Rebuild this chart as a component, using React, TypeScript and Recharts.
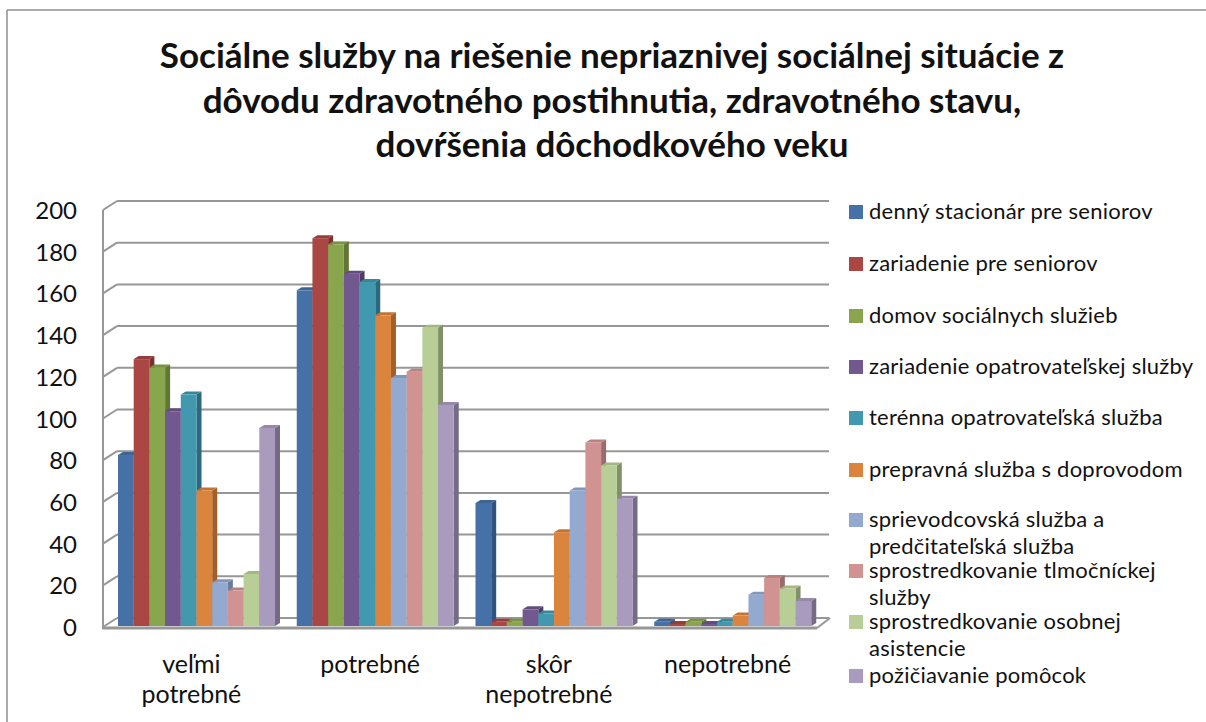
import React from 'react';
import { BarChart, Bar, XAxis, YAxis, CartesianGrid, Legend } from 'recharts';

const categories = ['veľmi potrebné', 'potrebné', 'skôr nepotrebné', 'nepotrebné'];

const denny = [82, 161, 59, 2];
const zariadenie = [128, 186, 2, 1];
const domov = [124, 183, 2, 2];
const opatrovatelska = [103, 169, 8, 1];
const terenna = [111, 165, 6, 2];
const prepravna = [65, 149, 45, 5];
const sprievodcovska = [21, 119, 65, 15];
const tlmocnicka = [17, 122, 88, 23];
const asistencia = [25, 143, 77, 18];
const pomocky = [95, 106, 61, 12];

const yTicks = [0, 20, 40, 60, 80, 100, 120, 140, 160, 180, 200];

const titleLines = [
  'Sociálne služby na riešenie nepriaznivej sociálnej situácie z',
  'dôvodu zdravotného postihnutia, zdravotného stavu,',
  'dovŕšenia dôchodkového veku',
];

// legend rows are not evenly spaced in the original
const legendRowY = [212, 264, 316, 367, 418, 470, 520, 571, 622, 676];

const series = [
  { key: 's1', name: 'denný stacionár pre seniorov', values: denny, color: '#4571a6', side: '#2f5480', top: '#3d6594' },
  { key: 's2', name: 'zariadenie pre seniorov', values: zariadenie, color: '#aa4643', side: '#7c2f2d', top: '#963c3a' },
  { key: 's3', name: 'domov sociálnych služieb', values: domov, color: '#89a54e', side: '#5f7635', top: '#799244' },
  { key: 's4', name: 'zariadenie opatrovateľskej služby', values: opatrovatelska, color: '#71588f', side: '#4e3c66', top: '#624c7e' },
  { key: 's5', name: 'terénna opatrovateľská služba', values: terenna, color: '#4198af', side: '#2a6a7c', top: '#38869b' },
  { key: 's6', name: 'prepravná služba s doprovodom', values: prepravna, color: '#db843d', side: '#a35f26', top: '#c37433' },
  { key: 's7', name: 'sprievodcovská služba a\npredčitateľská služba', values: sprievodcovska, color: '#93a9cf', side: '#6b7d9d', top: '#8296b9' },
  { key: 's8', name: 'sprostredkovanie tlmočníckej\nslužby', values: tlmocnicka, color: '#d19392', side: '#9b6b6a', top: '#b98180' },
  { key: 's9', name: 'sprostredkovanie osobnej\nasistencie', values: asistencia, color: '#b9cd96', side: '#7f9168', top: '#a4b684' },
  { key: 's10', name: 'požičiavanie pomôcok', values: pomocky, color: '#a99bbd', side: '#766b86', top: '#9688a9' },
];

const data = categories.map((name, i) => {
  const row: Record<string, string | number> = { name };
  series.forEach((s) => {
    row[s.key] = s.values[i];
  });
  return row;
});

const FONT = 'Lato, "Noto Sans", sans-serif';
const GRID = '#979797';
const DX = 5;
const DY = 3;

const bar3d = (side: string, top: string) => (props: any) => {
  const { x, y, width, height, fill } = props;
  const r = x + width;
  const b = y + height;
  return (
    <g>
      <polygon points={`${r},${y} ${r + DX},${y - DY} ${r + DX},${b - DY} ${r},${b}`} fill={side} />
      <polygon points={`${x},${y} ${x + DX},${y - DY} ${r + DX},${y - DY} ${r},${y}`} fill={top} />
      <rect x={x} y={y} width={width} height={height} fill={fill} />
    </g>
  );
};

const gridLine = (p: any) => (
  <g key={p.key}>
    <line x1={117} y1={p.y1 - 8} x2={829} y2={p.y1 - 8} stroke={GRID} strokeWidth={2} />
    <line x1={103} y1={p.y1 + 1} x2={117} y2={p.y1 - 8} stroke={GRID} strokeWidth={2} />
  </g>
);

const CategoryTick = (props: any) => {
  const { x, y, payload } = props;
  const words = String(payload.value).split(' ');
  return (
    <text x={x - 5} textAnchor="middle" fontFamily={FONT} fontSize={25} fill="#111">
      {words.map((w, i) => (
        <tspan key={w} x={x - 5} y={y + 39 + i * 30}>
          {w}
        </tspan>
      ))}
    </text>
  );
};

const ValueTick = (props: any) => (
  <text x={77} y={props.y + 10} textAnchor="end" fontFamily={FONT} fontSize={24} fill="#111">
    {props.payload.value}
  </text>
);

const LegendBox = (props: any) => (
  <div
    style={{
      position: 'relative',
      width: 1206,
      height: 722,
      fontFamily: FONT,
      fontSize: 22,
      letterSpacing: 0.24,
      color: '#111',
    }}
  >
    {props.payload.map((item: any, i: number) => (
      <div key={item.value}>
        <div
          style={{ position: 'absolute', left: 849, top: legendRowY[i] - 7, width: 14, height: 14, background: item.color }}
        />
        <div
          style={{
            position: 'absolute',
            left: 869,
            top: legendRowY[i] - 15,
            lineHeight: '27px',
            whiteSpace: 'pre-line',
          }}
        >
          {item.value}
        </div>
      </div>
    ))}
  </div>
);

const App = () => {
  return (
    <div
      style={{ position: 'fixed', left: 0, top: 0, width: 1206, height: 722, overflow: 'hidden', background: '#fff' }}
    >
      <BarChart
        width={1206}
        height={722}
        data={data}
        margin={{ top: 209, right: 384, bottom: 0, left: 0 }}
        barCategoryGap={11}
        barGap={0}
        barSize={15.7}
      >
        <line x1={7} y1={10} x2={7} y2={722} stroke="#8f8f8f" strokeWidth={1.5} />
        <line x1={7} y1={10} x2={1206} y2={10} stroke="#8f8f8f" strokeWidth={1.5} />
        <text textAnchor="middle" fontFamily={FONT} fontSize={35} fontWeight={700} fill="#111">
          {titleLines.map((line, i) => (
            <tspan key={line} x={612} y={68 + i * 44.5}>
              {line}
            </tspan>
          ))}
        </text>
        <CartesianGrid vertical={false} horizontal={gridLine} />
        <line x1={103} y1={210} x2={103} y2={628} stroke={GRID} strokeWidth={2} />
        <line x1={102} y1={628} x2={817} y2={628} stroke={GRID} strokeWidth={3} />
        <line x1={817} y1={628} x2={830} y2={618} stroke={GRID} strokeWidth={2} />
        <XAxis dataKey="name" height={96} axisLine={false} tickLine={false} tick={CategoryTick} interval={0} />
        <YAxis
          width={107}
          domain={[0, 200]}
          ticks={yTicks}
          axisLine={false}
          tickLine={false}
          tick={ValueTick}
          interval={0}
        />
        <Legend
          layout="vertical"
          align="center"
          verticalAlign="middle"
          itemSorter={null}
          content={LegendBox}
          wrapperStyle={{ left: 0, top: 0, width: 1206, height: 722, pointerEvents: 'none' }}
        />
        {series.map((s) => (
          <Bar
            key={s.key}
            dataKey={s.key}
            name={s.name}
            fill={s.color}
            shape={bar3d(s.side, s.top)}
            isAnimationActive={false}
          />
        ))}
      </BarChart>
    </div>
  );
};

export default App;
